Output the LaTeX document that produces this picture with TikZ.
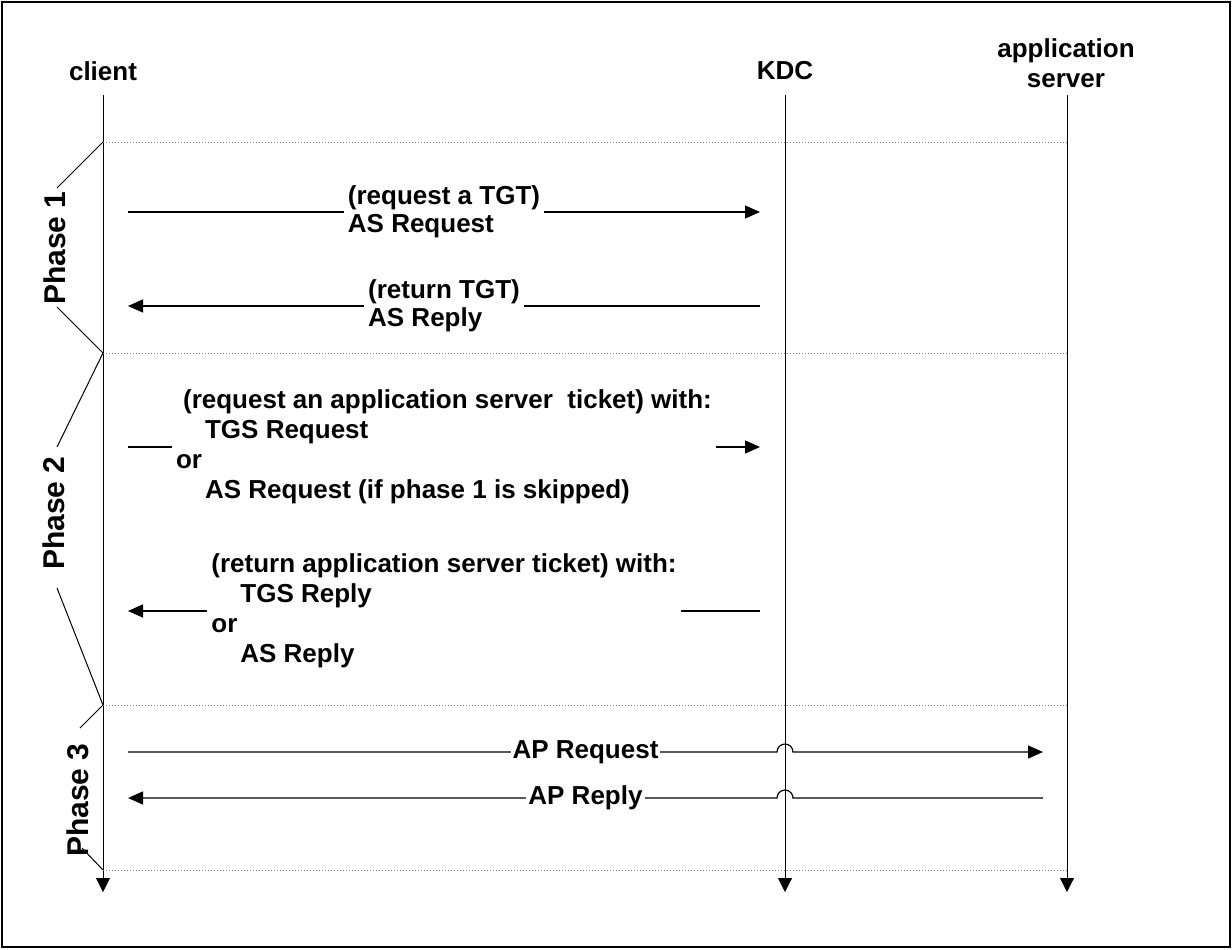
\documentclass[tikz,border=0pt]{standalone}
\usepackage{fontspec}
\setmainfont{Liberation Sans}
\usetikzlibrary{arrows.meta,calc}
\begin{document}
\begin{tikzpicture}[x=0.5pt,y=-0.5pt,
  every node/.style={font=\fontsize{13}{15}\selectfont\bfseries,inner sep=2pt},
  head/.style={align=center},
  lbl/.style={fill=white,align=left},
  phaselbl/.style={rotate=90,inner sep=0pt,font=\fontsize{15}{18}\selectfont\bfseries},
  life/.style={line width=0.5pt,-{Triangle[length=7pt,width=7pt]}},
  msg/.style={line width=0.6pt,-{Triangle[length=7.5pt,width=6.5pt]}},
  sep/.style={line width=0.4pt,gray,dash pattern=on 0.5pt off 1pt},
  brace/.style={line width=0.5pt}]
\useasboundingbox (0,0) rectangle (1232,949);
\draw[line width=1.2pt] (2,2) rectangle (1230,947);
\node[head] (client) at (103,71) {client};
\node[head] (kdc) at (785,71) {KDC};
\node[head] (appsrv) at (1066,63) {application\\server};
\coordinate (clienttop) at (103,95);
\coordinate (clientbot) at (103,892);
\coordinate (kdctop) at (785,95);
\coordinate (kdcbot) at (785,892);
\coordinate (apptop) at (1067,95);
\coordinate (appbot) at (1067,892);
\draw[life] (clienttop) -- (clientbot);
\draw[life] (kdctop) -- (kdcbot);
\draw[life] (apptop) -- (appbot);
\coordinate (d1) at (103,142);
\coordinate (d2) at (103,353);
\coordinate (d3) at (103,705);
\coordinate (d4) at (103,870);
\draw[sep] (d1) -- (apptop |- d1);
\draw[sep] (d2) -- (apptop |- d2);
\draw[sep] (d3) -- (apptop |- d3);
\draw[sep] (d4) -- (apptop |- d4);
\node[phaselbl] (ph1) at (55,248) {Phase 1};
\node[phaselbl] (ph2) at (54,513) {Phase 2};
\node[phaselbl] (ph3) at (78,800) {Phase 3};
\coordinate (p1a) at (57,188);
\coordinate (p1b) at (57,307);
\coordinate (p2a) at (57,447);
\coordinate (p2b) at (57,588);
\coordinate (p3a) at (80,728);
\coordinate (p3b) at (82,848);
\draw[brace] (d1) -- (p1a);
\draw[brace] (p1b) -- (d2);
\draw[brace] (d2) -- (p2a);
\draw[brace] (p2b) -- (d3);
\draw[brace] (d3) -- (p3a);
\draw[brace] (p3b) -- (d4);
\coordinate (asreqs) at (128,212);
\coordinate (asreqe) at (760,212);
\coordinate (asreps) at (760,306);
\coordinate (asrepe) at (128,306);
\coordinate (tgsreqs) at (128,447);
\coordinate (tgsreqe) at (760,447);
\coordinate (tgsreps) at (760,611);
\coordinate (tgsrepe) at (128,611);
\coordinate (apreqs) at (128,752);
\coordinate (apreqe) at (1043,752);
\coordinate (apreps) at (1043,798);
\coordinate (aprepe) at (128,798);
\draw[msg] (asreqs) -- (asreqe) node[midway,lbl] (asreq) {(request a TGT)\\[-1pt]AS Request};
\draw[msg] (asreps) -- (asrepe) node[midway,lbl] (asrep) {(return TGT)\\[-1pt]AS Reply};
\draw[msg] (tgsreqs) -- (tgsreqe) node[midway,lbl] (tgsreq)
  {\hspace*{3.5pt}(request an application server\ \ ticket) with:\\
   \hspace*{14.5pt}TGS Request\\or\\
   \hspace*{14.5pt}AS Request (if phase 1 is skipped)};
\draw[msg] (tgsreps) -- (tgsrepe) node[midway,lbl] (tgsrep)
  {(return application server ticket) with:\\
   \hspace*{14.5pt}TGS Reply\\or\\
   \hspace*{14.5pt}AS Reply};
\draw[msg] (apreqs) -- ($(kdcbot |- apreqs)+(-8,0)$) arc[start angle=180,end angle=0,radius=4pt] -- (apreqe);
\node[lbl,inner xsep=1pt] (apreq) at ($(apreqs)!0.5!(apreqe)$) {AP Request};
\draw[msg] (apreps) -- ($(kdcbot |- apreps)+(8,0)$) arc[start angle=0,end angle=180,radius=4pt] -- (aprepe);
\node[lbl,inner xsep=1pt] (aprep) at ($(apreps)!0.5!(aprepe)$) {AP Reply};
\end{tikzpicture}
\end{document}
